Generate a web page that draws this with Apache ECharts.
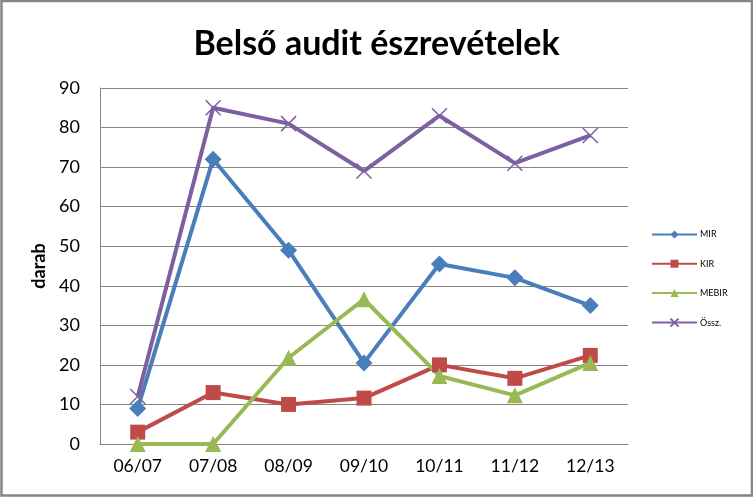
<!DOCTYPE html>
<html><head><meta charset="utf-8">
<script src="https://cdn.jsdelivr.net/npm/echarts@6/dist/echarts.min.js"></script>
<style>html,body{margin:0;padding:0;background:#fff}#c{width:753px;height:497px}</style>
</head><body><div id="c"></div>
<script>
const categories = ['06/07','07/08','08/09','09/10','10/11','11/12','12/13'];
const mir = [9, 72, 49, 20.5, 45.5, 42, 35];
const kir = [3, 13, 10, 11.6, 20, 16.6, 22.4];
const mebir = [0, 0, 21.8, 36.6, 17.2, 12.3, 20.5];
const ossz = [12, 85, 81, 69, 83, 71, 78];
const yTicks = [0, 90, 10];

const FONT = 'Lato, "Open Sans", sans-serif';
const chart = echarts.init(document.getElementById('c'));
const crossPath = 'path://M0,0L10,10M10,0L0,10';
function s(name, data, color, symbol, size, extra) {
  return Object.assign({
    name, type: 'line', data, symbol, symbolSize: size,
    lineStyle: { color, width: 4 },
    itemStyle: { color },
    emphasis: { disabled: true },
    animation: false, z: 3
  }, extra || {});
}
chart.setOption({
  animation: false,
  title: { text: 'Belső audit észrevételek', left: 'center', top: 22,
    textStyle: { fontFamily: FONT, fontSize: 34, fontWeight: 'bold', color: '#000' } },
  graphic: [{ type: 'rect', shape: { x: 1.5, y: 1, width: 750.5, height: 494.5 },
    style: { fill: 'none', stroke: '#858585', lineWidth: 2.5 }, silent: true, z: 100 }],
  grid: { left: 100, top: 88, right: 125, bottom: 53 },
  legend: {
    orient: 'vertical', left: 646, top: 225, itemWidth: 45, itemHeight: 10, itemGap: 20.2,
    textStyle: { fontFamily: FONT, fontSize: 9, color: '#000', padding: [0, 0, 0, -2] },
    data: ['MIR','KIR','MEBIR','Össz.']
  },
  xAxis: { type: 'category', data: categories, boundaryGap: true,
    axisLine: { lineStyle: { color: '#868686', width: 1 } },
    axisTick: { show: false },
    axisLabel: { fontFamily: FONT, fontSize: 17.5, color: '#000', margin: 13 } },
  yAxis: { type: 'value', min: yTicks[0], max: yTicks[1], interval: yTicks[2],
    name: 'darab', nameLocation: 'middle', nameGap: 50, nameRotate: 90,
    nameTextStyle: { fontFamily: FONT, fontSize: 18, fontWeight: 'bold', color: '#000' },
    axisLine: { show: true, lineStyle: { color: '#868686', width: 1 } },
    axisTick: { show: false },
    splitLine: { lineStyle: { color: '#868686', width: 1 } },
    axisLabel: { fontFamily: FONT, fontSize: 18, color: '#000', margin: 20 } },
  series: [
    s('MIR', mir, '#4A7EBB', 'diamond', 17),
    s('KIR', kir, '#BE4B48', 'rect', 15),
    s('MEBIR', mebir, '#98B954', 'triangle', 16),
    s('Össz.', ossz, '#7D60A0', crossPath, 15, { itemStyle: { color: '#7D60A0', borderColor: '#7D60A0', borderWidth: 1.5 } })
  ]
});
</script></body></html>
